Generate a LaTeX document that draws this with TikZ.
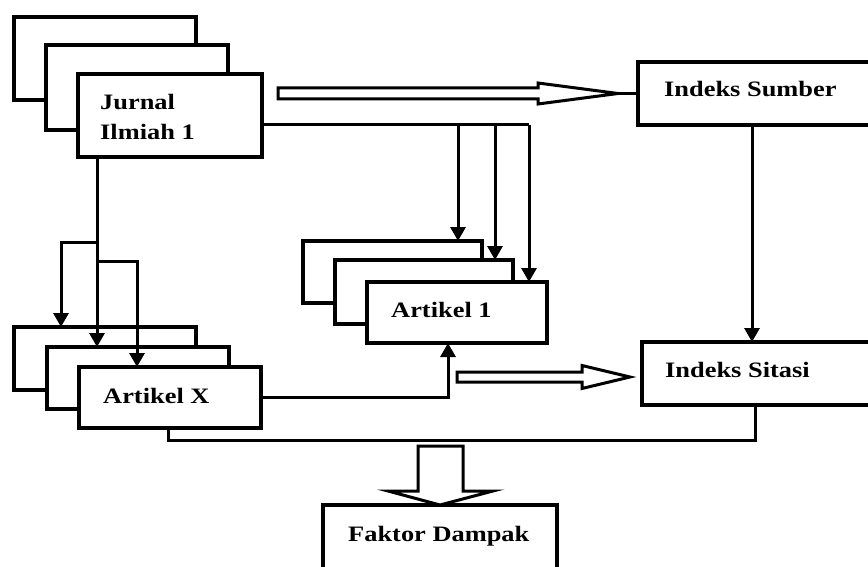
\documentclass[tikz,border=0pt]{standalone}
\usepackage{fontspec}
\usetikzlibrary{arrows.meta}
\newfontfamily\lblfont{Liberation Serif}[FakeStretch=1.2]
\begin{document}
\begin{tikzpicture}[x=1pt,y=-1pt,
  box/.style={draw, line width=3.4pt, fill=white, inner sep=0pt, outer sep=0pt, anchor=north west},
  lbl/.style={font=\lblfont\bfseries\fontsize{22}{30}\selectfont, inner sep=0pt, anchor=base west, align=left},
  wire/.style={line width=3pt},
  arr/.style={wire, -{Triangle[length=14pt,width=15pt]}},
  hollow/.style={line width=3pt, fill=white, line join=miter}]
\clip (0,0) rectangle (868,567);
\fill[white] (0,0) rectangle (868,567);

% Journal stack
\node[box, minimum width=182, minimum height=83] (j3) at (14,17) {};
\node[box, minimum width=182, minimum height=85] (j2) at (46,45) {};
\node[box, minimum width=184, minimum height=83] (j1) at (78,74) {};
\node[lbl] (j1t) at (100,140) {Jurnal\\Ilmiah 1};

% Index boxes on the right
\node[box, minimum width=262, minimum height=63] (is) at (638,62) {};
\node[lbl] (ist) at (664,97) {Indeks Sumber};
\node[box, minimum width=258, minimum height=63] (isit) at (642,342) {};
\node[lbl] (isitt) at (665,377) {Indeks Sitasi};

% Article 1 stack
\node[box, minimum width=179, minimum height=62] (a3) at (303,241) {};
\node[box, minimum width=178, minimum height=64] (a2) at (335,260) {};
\node[box, minimum width=180, minimum height=61] (a1) at (367,282) {};
\node[lbl] (a1t) at (391,317) {Artikel 1};

% Article X stack
\node[box, minimum width=182, minimum height=63] (x3) at (14,327) {};
\node[box, minimum width=182, minimum height=62] (x2) at (47,347) {};
\node[box, minimum width=182, minimum height=61] (x1) at (79,367) {};
\node[lbl] (x1t) at (103,403) {Artikel X};

% Impact factor
\node[box, minimum width=234, minimum height=120] (fd) at (323,505) {};
\node[lbl] (fdt) at (348,541) {Faktor Dampak};

% Journal -> Article 1 stack
\coordinate (t1) at (458,125);
\coordinate (t2) at (495,125);
\coordinate (t3) at (529,125);
\draw[wire] (j1.east |- t3) -- (t3);
\draw[arr] (t1) -- (a3.north -| t1);
\draw[arr] (t2) -- (a2.north -| t2);
\draw[arr] (t3) -- (a1.north -| t3);

% Journal -> Article X stack
\coordinate (b1) at (97,242);
\coordinate (b2) at (97,261);
\draw[arr] (j1.south -| b1) -- (x2.north -| b1);
\draw[arr] (b1) -| ([xshift=-44pt]x3.north);
\draw[arr] (b2) -| ([xshift=-33pt]x1.north);

% Article X -> Article 1
\draw[arr] (x1.east) -| ([xshift=-9pt]a1.south);

% Source index -> citation index
\coordinate (sv) at ([xshift=114pt]is.south west);
\draw[arr] (sv) -- (isit.north -| sv);

% Collecting line feeding the impact factor
\coordinate (m) at (440,440);
\draw[wire] ([xshift=113pt]isit.south west) |- (m) -| ([xshift=-2pt]x1.south);

% Hollow arrows
\draw[hollow] ([xshift=-20pt]is.west) -- ++(-80,-10.5) -- ++(0,5) -- ++(-260,0)
  -- ++(0,11) -- ++(260,0) -- ++(0,5) -- cycle;
\draw[wire] ([xshift=-20pt]is.west) -- (is.west);
\draw[hollow] ([xshift=-12pt,yshift=-3.5pt]isit.west) -- ++(-48,-11.5) -- ++(0,6.5)
  -- ++(-125,0) -- ++(0,10) -- ++(125,0) -- ++(0,6.5) -- cycle;
\draw[hollow] (fd.north) -- ++(-52,-14) -- ++(30,0) -- ++(0,-45) -- ++(45,0)
  -- ++(0,45) -- ++(30,0) -- cycle;
\end{tikzpicture}
\end{document}
